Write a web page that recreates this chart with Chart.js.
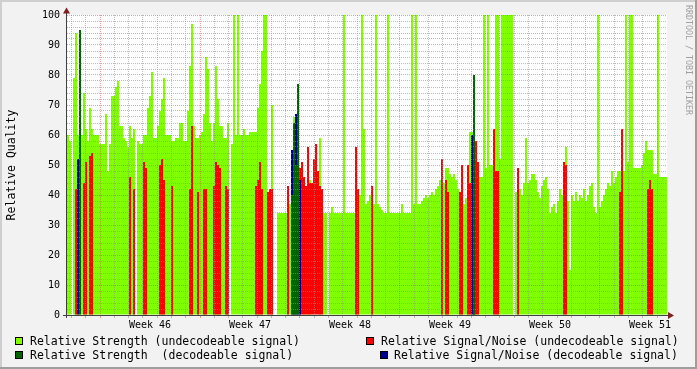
<!DOCTYPE html>
<html><head><meta charset="utf-8">
<script src="https://cdn.jsdelivr.net/npm/chart.js@4.4.1/dist/chart.umd.min.js"></script>
<style>html,body{margin:0;padding:0;background:#f2f2f2;}canvas{display:block;}</style>
</head><body>
<canvas id="c" width="697" height="369"></canvas>
<script>
// ---- data ----
// time axis: days relative to Monday of week 46; one sample every 0.14 day
const startDay = -2.31;
const slotDays = 0.14;
const weekLabels = ['Week 46', 'Week 47', 'Week 48', 'Week 49', 'Week 50', 'Week 51'];
const yTickLabels = ['0', '10', '20', '30', '40', '50', '60', '70', '80', '90', '100'];

// Relative Strength (undecodeable signal), one value per sample
const strengthUndecodeable = [
  60,58,null,79,94,60,60,60,74,62,
  58,69,62,60,60,60,57,57,57,67,
  48,57,73,73,76,78,63,63,59,58,
  56,63,59,62,null,58,57,57,60,60,
  69,73,81,59,59,63,68,72,79,60,
  60,60,58,58,59,59,64,64,58,58,
  68,83,97,63,59,59,60,61,67,86,
  82,64,58,64,83,72,63,63,59,59,
  64,null,57,100,60,100,60,60,62,60,
  60,61,61,61,61,69,77,88,100,100,
  null,null,70,null,null,34,34,34,34,34,
  34,37,null,66,null,null,null,null,37,null,
  56,45,null,null,null,null,59,null,34,34,
  null,34,36,34,34,34,34,34,100,34,
  34,34,34,34,37,37,40,100,62,37,
  38,40,38,37,100,37,36,35,34,34,
  100,34,34,34,34,34,34,37,34,34,
  34,34,100,37,100,37,37,38,39,40,
  39,40,41,40,42,43,45,48,44,49,
  49,47,46,47,45,42,39,46,37,39,
  39,61,61,50,49,49,46,46,100,49,
  100,50,50,52,100,100,52,100,100,100,
  100,100,100,null,41,41,42,40,44,59,
  44,45,47,47,45,41,39,43,45,46,
  42,34,36,37,34,38,42,40,45,56,
  38,15,40,38,41,38,40,39,42,38,
  40,43,44,36,34,100,36,38,40,42,
  44,43,48,44,46,48,48,48,48,100,
  51,100,100,49,49,49,49,50,54,58,
  55,55,55,47,47,100,46,46,46,46
];
// sparse series: [sample index, value]
const snrUndecodeable = [
  [4,42],[8,44],[9,51],[11,53],[12,54],[31,46],[33,42],[38,51],[39,49],[46,50],
  [47,52],[48,45],[52,43],[61,42],[62,63],[65,41],[68,42],[69,42],[73,43],[74,51],
  [75,50],[76,49],[79,43],[80,42],[94,43],[95,45],[96,51],[97,42],[100,41],[101,42],
  [102,42],[110,43],[116,49],[117,51],[118,46],[119,43],[120,56],[121,44],[122,44],[123,52],
  [124,57],[125,48],[126,43],[127,42],[144,56],[145,42],[152,43],[187,52],[189,45],[190,41],
  [196,41],[197,50],[200,50],[201,44],[204,58],[205,51],[213,62],[214,48],[215,48],[225,49],
  [248,51],[249,50],[276,41],[277,62],[290,42],[291,45],[292,42]
];
const strengthDecodeable = [[6,95],[112,40],[113,64],[114,50],[115,77],[203,80]];
const snrDecodeable = [[5,52],[112,55],[113,50],[114,67],[115,60],[116,45],[202,60],[203,60]];

// ---- build ----
const N = strengthUndecodeable.length;
const xOf = i => startDay + slotDays * (i + 0.5);
const dense = arr => arr.map((v, i) => ({x: xOf(i), y: v}));
const fromSparse = pairs => {
  const out = new Array(N).fill(null);
  pairs.forEach(([i, v]) => { out[i] = v; });
  return dense(out);
};

const GRID = 'rgba(143,143,143,0.6)';
const MGRID = 'rgba(222,79,79,0.55)';
const FONT = "'DejaVu Sans Mono', monospace";
Chart.defaults.font.family = FONT;

const COLORS = {g: '#80ff00', r: '#ff0000', d: '#006400', b: '#000090'};

const framePlugin = {
  id: 'frame',
  beforeDraw(chart) {
    const c = chart.ctx, W = chart.width, H = chart.height, a = chart.chartArea;
    c.save();
    c.fillStyle = '#f2f2f2'; c.fillRect(0, 0, W, H);
    c.fillStyle = '#cfcfcf'; c.fillRect(0, 0, W, 2); c.fillRect(0, 0, 2, H);
    c.fillStyle = '#9e9e9e'; c.fillRect(0, H - 2, W, 2); c.fillRect(W - 2, 0, 2, H);
    c.fillStyle = '#ffffff'; c.fillRect(a.left, a.top, a.right - a.left, a.bottom - a.top);
    c.restore();
  },
  afterDraw(chart) {
    const c = chart.ctx, a = chart.chartArea;
    c.save();
    // axes
    c.fillStyle = '#404040';
    c.fillRect(a.left - 1, a.top - 2, 1, a.bottom - a.top + 5);
    c.fillRect(a.left - 4, a.bottom, a.right - a.left + 5, 1);
    // arrows
    c.fillStyle = '#801f1f';
    c.beginPath(); c.moveTo(a.left - 4, a.top - 1.5); c.lineTo(a.left + 3, a.top - 1.5); c.lineTo(a.left - 0.5, a.top - 7.5); c.closePath(); c.fill();
    c.beginPath(); c.moveTo(a.right + 1, a.bottom - 3); c.lineTo(a.right + 1, a.bottom + 4); c.lineTo(a.right + 7, a.bottom + 0.5); c.closePath(); c.fill();
    // legend
    const ds = chart.data.datasets;
    const byKey = k => ds.find(d => d.key === k);
    const items = [
      {d: byKey('g'), bx: 15, tx: 30, base: 345},
      {d: byKey('r'), bx: 366, tx: 381, base: 345},
      {d: byKey('d'), bx: 15, tx: 30, base: 359},
      {d: byKey('b'), bx: 380, tx: 394, base: 359}
    ];
    c.font = '11.5px ' + FONT;
    c.textBaseline = 'alphabetic';
    c.textAlign = 'left';
    items.forEach(it => {
      c.fillStyle = it.d.backgroundColor;
      c.fillRect(it.bx, it.base - 8, 8, 8);
      c.strokeStyle = '#000'; c.lineWidth = 1;
      c.strokeRect(it.bx + 0.5, it.base - 7.5, 7, 7);
      c.fillStyle = '#000';
      c.fillText(it.d.label, it.tx, it.base);
    });
    // watermark
    c.translate(688, 5);
    c.rotate(Math.PI / 2);
    c.font = '8.3px ' + FONT;
    c.fillStyle = '#a0a0a0';
    c.textBaseline = 'middle';
    c.fillText('RRDTOOL / TOBI OETIKER', 0, 0);
    c.restore();
  }
};

const gridColorX = c => {
  const v = c.tick ? c.tick.value : 0;
  if (!Number.isInteger(v)) return 'rgba(0,0,0,0)';
  return (((v % 7) + 7) % 7 === 0) ? MGRID : GRID;
};

new Chart(document.getElementById('c'), {
  type: 'bar',
  data: {
    datasets: [
      {key: 'd', label: 'Relative Strength  (decodeable signal)', data: fromSparse(strengthDecodeable), backgroundColor: COLORS.d, order: 0},
      {key: 'b', label: 'Relative Signal/Noise (decodeable signal)', data: fromSparse(snrDecodeable), backgroundColor: COLORS.b, order: 1},
      {key: 'r', label: 'Relative Signal/Noise (undecodeable signal)', data: fromSparse(snrUndecodeable), backgroundColor: COLORS.r, order: 2},
      {key: 'g', label: 'Relative Strength (undecodeable signal)', data: dense(strengthUndecodeable), backgroundColor: COLORS.g, order: 3}
    ]
  },
  options: {
    responsive: false,
    animation: false,
    devicePixelRatio: 1,
    datasets: {bar: {grouped: false, categoryPercentage: 1, barPercentage: 1, borderWidth: 0, inflateAmount: 0}},
    layout: {padding: {top: 15, right: 30, bottom: 34, left: 0}},
    plugins: {legend: {display: false}, tooltip: {enabled: false}},
    scales: {
      x: {
        type: 'linear',
        offset: false,
        min: startDay,
        max: startDay + slotDays * N,
        afterBuildTicks(s) {
          const t = [];
          for (let d = Math.ceil(s.min); d <= Math.floor(s.max); d++) t.push({value: d});
          weekLabels.forEach((w, k) => t.push({value: 7 * k + 3.5}));
          t.sort((p, q) => p.value - q.value);
          s.ticks = t;
        },
        afterFit(s) { s.height = 20; },
        grid: {
          offset: false,
          z: 1,
          lineWidth: 1,
          drawTicks: true,
          tickLength: 3,
          color: gridColorX,
          tickColor: gridColorX
        },
        border: {display: false, dash: [1, 1]},
        ticks: {
          autoSkip: false, maxRotation: 0, minRotation: 0, padding: 1,
          color: '#000', font: {size: 10},
          callback: v => {
            const k = (v - 3.5) / 7;
            return (Number.isInteger(k) && weekLabels[k]) ? weekLabels[k] : '';
          }
        }
      },
      y: {
        min: 0, max: 100,
        afterFit(s) { s.width = 67; },
        grid: {
          z: 1, lineWidth: 1, drawTicks: false,
          color: c => (c.tick && c.tick.value % 10 === 0) ? MGRID : GRID
        },
        border: {display: false, dash: [1, 1]},
        ticks: {
          stepSize: 2, autoSkip: false, padding: 7, color: '#000', font: {size: 10},
          callback: v => (v % 10 === 0) ? yTickLabels[v / 10] : ''
        },
        title: {display: true, text: 'Relative Quality', color: '#000', font: {size: 11.5}, padding: {top: 5, bottom: 0}}
      }
    }
  },
  plugins: [framePlugin]
});
</script>
</body></html>
